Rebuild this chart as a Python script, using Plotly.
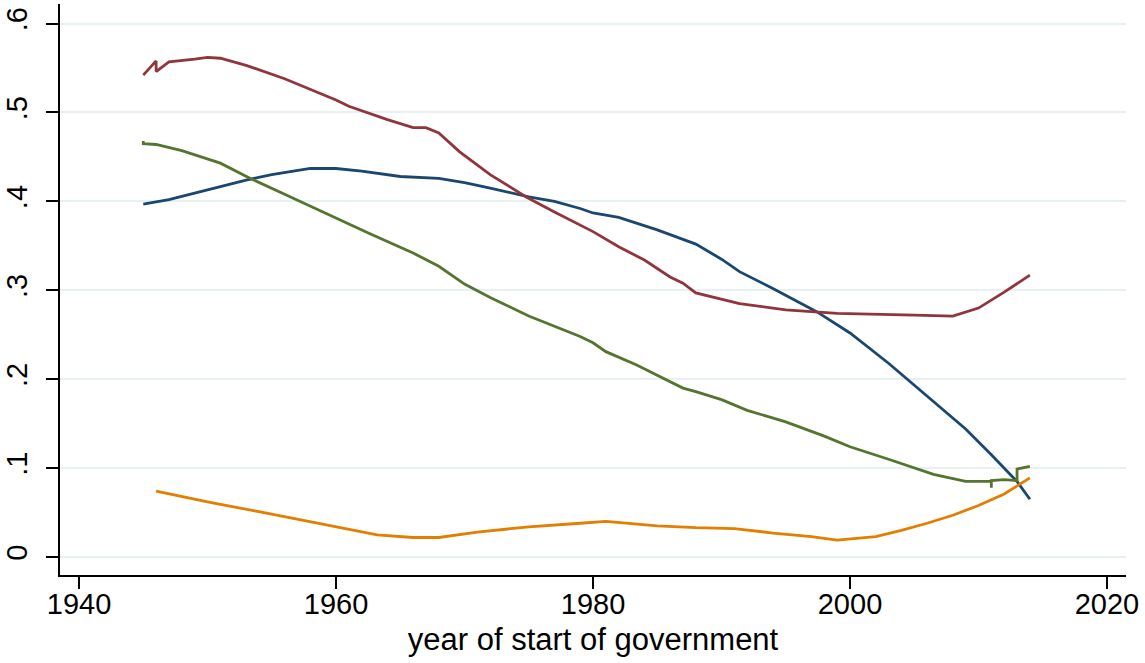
import plotly.graph_objects as go

# ---- data ----
blue_x = [1945, 1947, 1950, 1953, 1955, 1957, 1958, 1960, 1962, 1965, 1968, 1970, 1972, 1975, 1977, 1979, 1980, 1982, 1985, 1988, 1990, 1991.4, 1994, 1997.4, 2000, 2003, 2005.4, 2009, 2011, 2013, 2014]
blue_y = [0.397, 0.402, 0.413, 0.424, 0.430, 0.435, 0.437, 0.437, 0.434, 0.428, 0.426, 0.421, 0.415, 0.405, 0.400, 0.392, 0.387, 0.382, 0.368, 0.352, 0.335, 0.321, 0.302, 0.276, 0.252, 0.218, 0.188, 0.144, 0.115, 0.085, 0.065]

red_x = [1945, 1946, 1946, 1947, 1949, 1950, 1951, 1953, 1956, 1960, 1961, 1964, 1966, 1967, 1968, 1969.6, 1972, 1974.8, 1977, 1980, 1982, 1984, 1986, 1987, 1988, 1990, 1991.4, 1995, 1999, 2005, 2008, 2010, 2012, 2014]
red_y = [0.542, 0.558, 0.546, 0.557, 0.560, 0.562, 0.561, 0.553, 0.538, 0.514, 0.507, 0.492, 0.483, 0.483, 0.477, 0.456, 0.430, 0.405, 0.388, 0.366, 0.349, 0.334, 0.315, 0.308, 0.297, 0.290, 0.285, 0.278, 0.274, 0.272, 0.271, 0.280, 0.298, 0.317]

green_x = [1945, 1945, 1946, 1948, 1951, 1953.3, 1956, 1957.5, 1960, 1962.6, 1966, 1968, 1970, 1972, 1975, 1979, 1980, 1981, 1983.4, 1987, 1988, 1990, 1992, 1995, 1998, 2000, 2003, 2006.5, 2009, 2011, 2011, 2011, 2012, 2013, 2013, 2014]
green_y = [0.468, 0.465, 0.464, 0.457, 0.443, 0.426, 0.408, 0.398, 0.381, 0.364, 0.342, 0.327, 0.307, 0.292, 0.271, 0.248, 0.241, 0.231, 0.216, 0.190, 0.186, 0.177, 0.165, 0.152, 0.136, 0.124, 0.110, 0.093, 0.085, 0.085, 0.078, 0.086, 0.087, 0.086, 0.099, 0.102]

orange_x = [1946, 1950, 1954, 1958, 1961, 1963.2, 1966, 1968, 1971, 1975, 1979, 1981, 1985, 1988, 1991, 1994, 1997, 1999, 2002, 2004, 2006, 2008, 2010, 2012, 2014]
orange_y = [0.074, 0.062, 0.051, 0.040, 0.031, 0.025, 0.022, 0.022, 0.028, 0.034, 0.038, 0.040, 0.035, 0.033, 0.032, 0.027, 0.023, 0.019, 0.023, 0.030, 0.038, 0.047, 0.058, 0.071, 0.089]

y_ticks = [0, 0.1, 0.2, 0.3, 0.4, 0.5, 0.6]
y_ticktext = ["0", ".1", ".2", ".3", ".4", ".5", ".6"]
x_ticks = [1940, 1960, 1980, 2000, 2020]
x_title = "year of start of government"

series = [
    (blue_x, blue_y, "#1a476f"),
    (red_x, red_y, "#90353b"),
    (green_x, green_y, "#55752f"),
    (orange_x, orange_y, "#e37e00"),
]

fig = go.Figure()
for xs, ys, col in series:
    fig.add_trace(go.Scatter(x=xs, y=ys, mode="lines",
                             line=dict(color=col, width=2.8),
                             showlegend=False, hoverinfo="skip"))

font = dict(family="Liberation Sans, Arial, Helvetica, sans-serif", size=29, color="black")
title_font = dict(family="Liberation Sans, Arial, Helvetica, sans-serif", size=31, color="black")

fig.update_layout(
    width=1145, height=663,
    margin=dict(l=60, r=19, t=4, b=88, autoexpand=False),
    paper_bgcolor="white", plot_bgcolor="white",
    font=font,
    showlegend=False,
    hovermode=False,
)
fig.update_xaxes(
    range=[1938.52, 2021.48],
    tickvals=x_ticks,
    ticks="outside", ticklen=12, tickwidth=1.6, tickcolor="black",
    showline=True, linecolor="black", linewidth=1.8,
    showgrid=False, zeroline=False, automargin=False,
    ticklabelstandoff=-10,
    title=dict(text=x_title, font=title_font, standoff=10),
    tickfont=font,
)
fig.update_yaxes(
    range=[-0.0202, 0.622],
    tickvals=y_ticks, ticktext=y_ticktext,
    tickangle=-90,
    ticks="outside", ticklen=12, tickwidth=1.6, tickcolor="black",
    showline=True, linecolor="black", linewidth=1.8,
    showgrid=True, gridcolor="#e8f0f2", gridwidth=2,
    zeroline=False, automargin=False,
    ticklabelstandoff=8,
    tickfont=font,
)

fig.write_html("out.html", config={"displayModeBar": False},
               post_script="document.body.style.margin='0';document.body.style.overflow='hidden';")
